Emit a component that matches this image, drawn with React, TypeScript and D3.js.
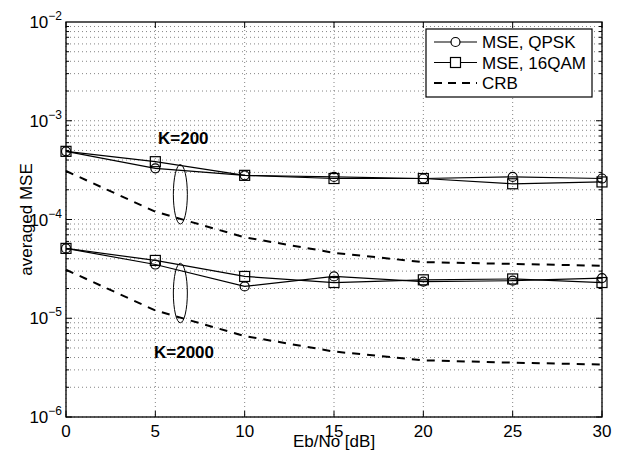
import React, { useEffect, useRef } from 'react';
import * as d3 from 'd3';

// Eb/No values (dB)
const ebno = [0, 5, 10, 15, 20, 25, 30];

// K=200
const qpsk200 = [4.9e-4, 3.3e-4, 2.8e-4, 2.7e-4, 2.6e-4, 2.7e-4, 2.6e-4];
const qam200 = [4.9e-4, 3.85e-4, 2.8e-4, 2.6e-4, 2.6e-4, 2.3e-4, 2.4e-4];
const crb200 = [3.1e-4, 1.2e-4, 6.6e-5, 4.6e-5, 3.7e-5, 3.55e-5, 3.4e-5];

// K=2000
const qpsk2000 = [5.1e-5, 3.5e-5, 2.1e-5, 2.65e-5, 2.35e-5, 2.4e-5, 2.55e-5];
const qam2000 = [5.1e-5, 3.85e-5, 2.65e-5, 2.3e-5, 2.45e-5, 2.5e-5, 2.3e-5];
const crb2000 = [3.1e-5, 1.2e-5, 6.6e-6, 4.6e-6, 3.75e-6, 3.55e-6, 3.4e-6];

const xTicks = [0, 5, 10, 15, 20, 25, 30];
const yExponents = [-2, -3, -4, -5, -6];
const legendLabels = ['MSE, QPSK', 'MSE, 16QAM', 'CRB'];
const groupLabels = ['K=200', 'K=2000'];

const W = 621;
const H = 452;
const FONT = 'Liberation Sans, Arial, Helvetica, sans-serif';

const App = () => {
  const ref = useRef<SVGSVGElement>(null);

  useEffect(() => {
    const svg = d3.select(ref.current);
    svg.selectAll('*').remove();

    const left = 66, right = 602, top = 22, bottom = 417;
    const x = d3.scaleLinear().domain([0, 30]).range([left, right]);
    const y = d3.scaleLog().domain([1e-6, 1e-2]).range([bottom, top]);

    svg.append('rect').attr('width', W).attr('height', H).attr('fill', 'white');

    const grid = svg.append('g')
      .attr('stroke', '#000')
      .attr('stroke-width', 0.8)
      .attr('stroke-dasharray', '1,3')
      .attr('opacity', 0.6);

    // log minor + major horizontal grid
    const yGrid: number[] = [];
    for (let e = -6; e < -2; e++) {
      for (let m = 1; m < 10; m++) yGrid.push(m * Math.pow(10, e));
    }
    yGrid.forEach(v => {
      grid.append('line')
        .attr('x1', left).attr('x2', right)
        .attr('y1', y(v)).attr('y2', y(v));
    });
    xTicks.forEach(t => {
      grid.append('line')
        .attr('x1', x(t)).attr('x2', x(t))
        .attr('y1', top).attr('y2', bottom);
    });

    // ticks
    const ticks = svg.append('g').attr('stroke', '#000').attr('stroke-width', 1);
    xTicks.forEach(t => {
      ticks.append('line').attr('x1', x(t)).attr('x2', x(t)).attr('y1', bottom).attr('y2', bottom - 6);
      ticks.append('line').attr('x1', x(t)).attr('x2', x(t)).attr('y1', top).attr('y2', top + 6);
    });
    yGrid.forEach(v => {
      const major = Math.abs(Math.log10(v) - Math.round(Math.log10(v))) < 1e-9;
      const len = major ? 6 : 3;
      ticks.append('line').attr('x1', left).attr('x2', left + len).attr('y1', y(v)).attr('y2', y(v));
      ticks.append('line').attr('x1', right).attr('x2', right - len).attr('y1', y(v)).attr('y2', y(v));
    });

    // axes box
    svg.append('rect')
      .attr('x', left).attr('y', top)
      .attr('width', right - left).attr('height', bottom - top)
      .attr('fill', 'none').attr('stroke', '#000').attr('stroke-width', 1.3);

    // tick labels
    xTicks.forEach(t => {
      svg.append('text')
        .attr('x', x(t)).attr('y', 437)
        .attr('text-anchor', 'middle')
        .style('font-family', FONT).style('font-size', '17px')
        .text(t);
    });
    yExponents.forEach(e => {
      const tx = svg.append('text')
        .attr('x', 62).attr('y', y(Math.pow(10, e)) + 6)
        .attr('text-anchor', 'end')
        .style('font-family', FONT).style('font-size', '17px');
      tx.append('tspan').text('10');
      tx.append('tspan').attr('dy', -8).style('font-size', '12px').text(`\u2212${-e}`);
    });

    // axis titles
    svg.append('text')
      .attr('x', x(15)).attr('y', 447)
      .attr('text-anchor', 'middle')
      .style('font-family', FONT).style('font-size', '17px')
      .text('Eb/No [dB]');
    svg.append('text')
      .attr('transform', `translate(32,${(top + bottom) / 2}) rotate(-90)`)
      .attr('text-anchor', 'middle')
      .style('font-family', FONT).style('font-size', '17px')
      .text('averaged MSE');

    const line = d3.line<number>()
      .x((_, i) => x(ebno[i]))
      .y(d => y(d));

    const plot = svg.append('g');
    const solid = [qpsk200, qam200, qpsk2000, qam2000];
    solid.forEach(s => {
      plot.append('path').datum(s).attr('d', line)
        .attr('fill', 'none').attr('stroke', '#000').attr('stroke-width', 1.2);
    });
    [crb200, crb2000].forEach(s => {
      plot.append('path').datum(s).attr('d', line)
        .attr('fill', 'none').attr('stroke', '#000').attr('stroke-width', 2)
        .attr('stroke-dasharray', '8,7');
    });

    // markers
    [qam200, qam2000].forEach(s => {
      plot.selectAll(null).data(s).enter().append('rect')
        .attr('x', (_, i) => x(ebno[i]) - 5).attr('y', d => y(d) - 5)
        .attr('width', 10).attr('height', 10)
        .attr('fill', 'none').attr('stroke', '#000').attr('stroke-width', 1.2);
    });
    [qpsk200, qpsk2000].forEach(s => {
      plot.selectAll(null).data(s).enter().append('circle')
        .attr('cx', (_, i) => x(ebno[i])).attr('cy', d => y(d))
        .attr('r', 4.5)
        .attr('fill', 'none').attr('stroke', '#000').attr('stroke-width', 1.2);
    });

    // ellipses + group labels
    const ex = x(6.4);
    [[y(3.6e-4), y(9e-5)], [y(3.6e-5), y(9e-6)]].forEach(([y1, y2]) => {
      svg.append('ellipse')
        .attr('cx', ex).attr('cy', (y1 + y2) / 2)
        .attr('rx', 7).attr('ry', (y2 - y1) / 2)
        .attr('fill', 'none').attr('stroke', '#000').attr('stroke-width', 1);
    });
    svg.append('text')
      .attr('x', 158).attr('y', 144)
      .style('font-family', FONT).style('font-size', '17px').style('font-weight', 'bold')
      .text(groupLabels[0]);
    svg.append('text')
      .attr('x', 154).attr('y', 358)
      .style('font-family', FONT).style('font-size', '17px').style('font-weight', 'bold')
      .text(groupLabels[1]);

    // legend
    const lg = svg.append('g');
    lg.append('rect')
      .attr('x', 426).attr('y', 29).attr('width', 166).attr('height', 68)
      .attr('fill', 'white').attr('stroke', '#000').attr('stroke-width', 1.2);
    legendLabels.forEach((lab, i) => {
      const ly = 42 + i * 20.5;
      lg.append('line')
        .attr('x1', 434).attr('x2', 477).attr('y1', ly).attr('y2', ly)
        .attr('stroke', '#000')
        .attr('stroke-width', i === 2 ? 2 : 1.2)
        .attr('stroke-dasharray', i === 2 ? '8,6' : null);
      if (i === 0) {
        lg.append('circle').attr('cx', 455.5).attr('cy', ly).attr('r', 4.5)
          .attr('fill', 'white').attr('stroke', '#000').attr('stroke-width', 1.2);
      } else if (i === 1) {
        lg.append('rect').attr('x', 450.5).attr('y', ly - 5).attr('width', 10).attr('height', 10)
          .attr('fill', 'white').attr('stroke', '#000').attr('stroke-width', 1.2);
      }
      lg.append('text')
        .attr('x', 482).attr('y', ly + 6)
        .style('font-family', FONT).style('font-size', '17px')
        .text(lab);
    });
  }, []);

  return (
    <svg ref={ref} width={W} height={H}
      style={{ position: 'absolute', left: 0, top: 0, display: 'block' }} />
  );
};

export default App;
